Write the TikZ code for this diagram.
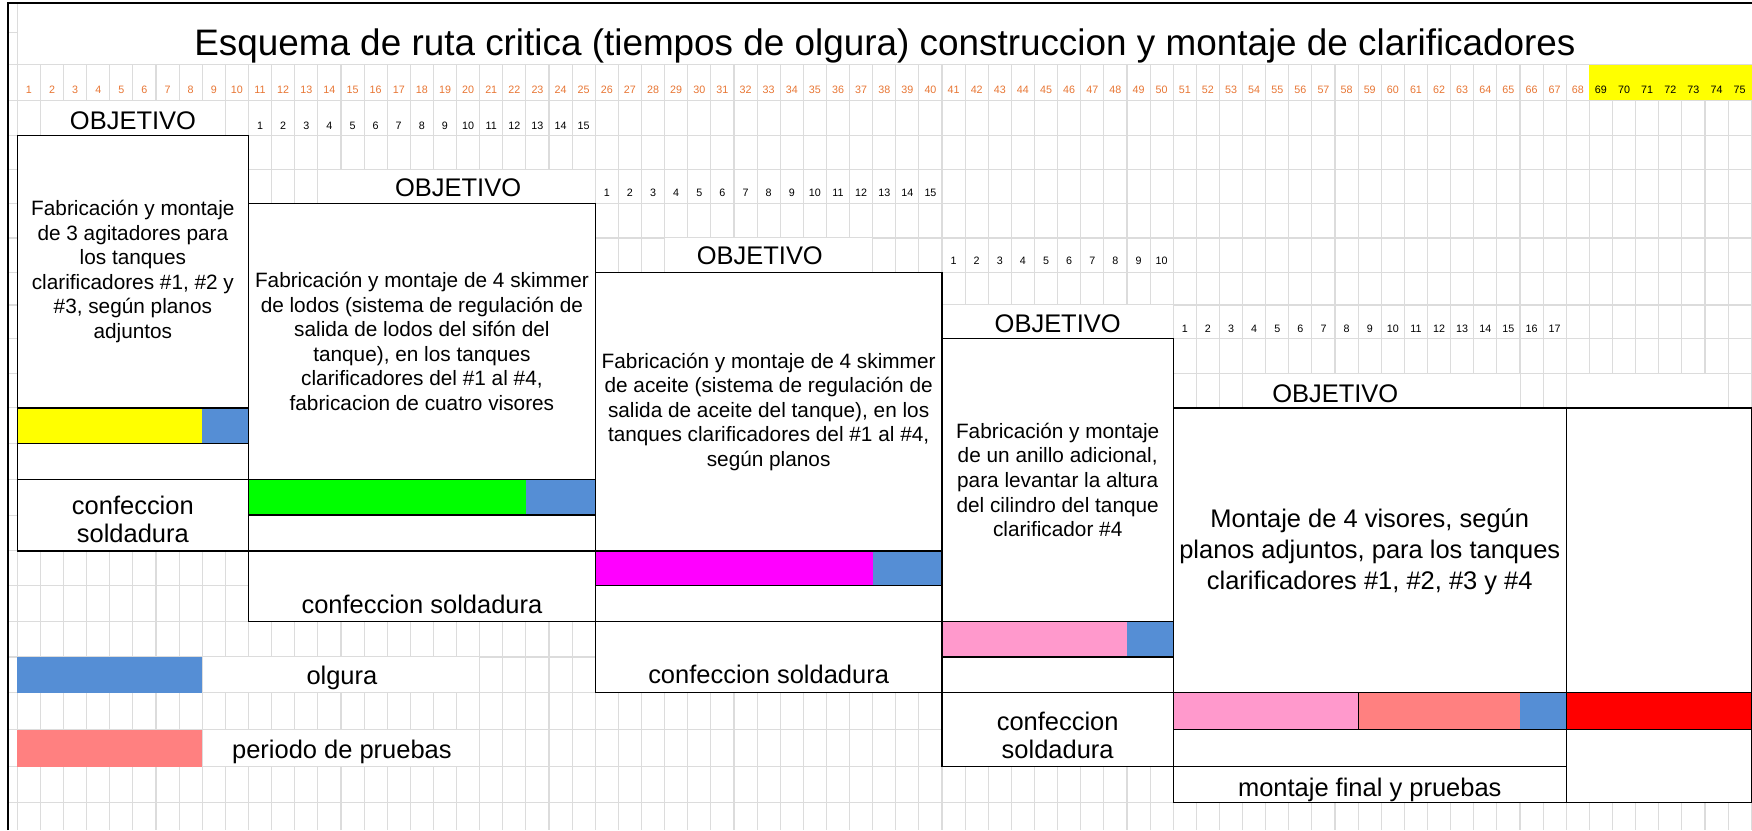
\documentclass[tikz,border=0pt]{standalone}
\usepackage{fontspec}
\setmainfont{Liberation Sans}
\usetikzlibrary{positioning}
\definecolor{gridgray}{RGB}{220,220,220}
\definecolor{olgura}{RGB}{85,142,213}
\definecolor{daycolor}{RGB}{232,118,52}
\definecolor{rosa}{RGB}{255,153,204}
\definecolor{pruebas}{RGB}{255,128,128}
\definecolor{amarillo}{RGB}{255,255,0}
\definecolor{verde}{RGB}{0,255,0}
\definecolor{fucsia}{RGB}{255,0,255}
\definecolor{rojo}{RGB}{255,0,0}

\begin{document}
\begin{tikzpicture}
	[
		x = 0.5pt, y = -0.5pt,
		gridline/.style = {draw = gridgray, line width = 0.5pt},
		boxline/.style = {draw = black, line width = 0.6pt},
		headline/.style = {font = \fontsize{16.5}{20}\selectfont, anchor = base, inner sep = 0pt},
		daynum/.style = {font = \fontsize{4.8}{5}\selectfont, text = daycolor, anchor = base, inner sep = 0pt},
		subnum/.style = {font = \fontsize{4.8}{5}\selectfont, anchor = base, inner sep = 0pt},
		objlabel/.style = {font = \fontsize{11.4}{13}\selectfont, anchor = base, inner sep = 0pt},
		desc/.style = {font = \fontsize{9.3}{11}\selectfont, align = center, inner sep = 0pt},
		bigdesc/.style = {font = \fontsize{11.4}{13.75}\selectfont, align = center, inner sep = 0pt},
		conflabel/.style = {font = \fontsize{11.4}{12.5}\selectfont, align = center, inner sep = 0pt},
	]
	%
	\useasboundingbox [fill = white] (0,0) rectangle (1568,743);
	%
	% hoja de calculo
	\foreach \k in {0,...,75}
		\draw [gridline] ({15.5+20.69*\k},3) -- ({15.5+20.69*\k},743);
	\foreach \y in {29,58,90,121,152,182,213,244,273,303,334,365,397,429,461,493,524,556,588,620,653,686,718}
		\draw [gridline] (7,\y) -- (1568,\y);
	%
	% celdas combinadas
	\fill [white] (16,3.4) rectangle (1568,57.6);
	\fill [white] (36.6,90.4) rectangle (201.3,120.6);
	\fill [white] (284.8,152.4) rectangle (532.4,181.6);
	\fill [white] (595.2,213.4) rectangle (780.6,243.6);
	\fill [white] (843.5,273.4) rectangle (1049.6,302.6);
	\fill [white] (1112.5,334.4) rectangle (1360,364.6);
	\fill [white] (1402.1,334.4) rectangle (1546.2,364.6);
	\fill [white] (181.4,588.4) rectangle (428.9,619.6);
	\fill [white] (181.4,653.4) rectangle (428.9,685.6);
	\fill [amarillo] (1422.42,58.4) rectangle (1568,89.6);
	%
	\node (title) [headline] at (792,50) {Esquema de ruta critica (tiempos de olgura) construccion y montaje de clarificadores};
	\foreach \k in {1,...,68}
		\node (n\k) [daynum] at ({15.5+20.69*(\k-0.5)},84) {\k};
	\foreach \k in {69,...,75}
		\node (n\k) [daynum, text = black] at ({15.5+20.69*(\k-0.5)},84) {\k};
	%
	\foreach \k in {1,...,15}
		\node (pa\k) [subnum] at ({222.36+20.69*(\k-0.5)},116) {\k};
	\foreach \k in {1,...,15}
		\node (pb\k) [subnum] at ({532.75+20.69*(\k-0.5)},176) {\k};
	\foreach \k in {1,...,10}
		\node (pc\k) [subnum] at ({843.1+20.69*(\k-0.5)},237) {\k};
	\foreach \k in {1,...,17}
		\node (pd\k) [subnum] at ({1050+20.69*(\k-0.5)},298) {\k};
	%
	\node (obj1) [objlabel] at (119,116) {OBJETIVO};
	\node (obj2) [objlabel] at (410,176) {OBJETIVO};
	\node (obj3) [objlabel] at (680,237) {OBJETIVO};
	\node (obj4) [objlabel] at (946.6,298) {OBJETIVO};
	\node (obj5) [objlabel] at (1195,360) {OBJETIVO};
	%
	% objetivo 1
	\fill [white] (15.5,121) rectangle (222.36,493);
	\fill [amarillo] (15.5,365) rectangle (180.98,397);
	\fill [olgura] (180.98,365) rectangle (222.36,397);
	\draw [boxline] (15.5,121) rectangle (222.36,493);
	\draw [boxline] (15.5,365) -- (222.36,365) (15.5,397) -- (222.36,397) (15.5,429) -- (222.36,429);
	%
	% objetivo 2
	\fill [white] (222.36,182) rectangle (532.75,556);
	\fill [verde] (222.36,429) rectangle (470.64,461);
	\fill [olgura] (470.64,429) rectangle (532.75,461);
	\draw [boxline] (222.36,182) rectangle (532.75,556);
	\draw [boxline] (222.36,429) -- (532.75,429) (222.36,461) -- (532.75,461) (222.36,493) -- (532.75,493);
	%
	% objetivo 3
	\fill [white] (532.75,244) rectangle (843.1,620);
	\fill [fucsia] (532.75,493) rectangle (781.03,524);
	\fill [olgura] (781.03,493) rectangle (843.1,524);
	\draw [boxline] (532.75,244) rectangle (843.1,620);
	\draw [boxline] (532.75,493) -- (843.1,493) (532.75,524) -- (843.1,524) (532.75,556) -- (843.1,556);
	%
	% objetivo 4
	\fill [white] (843.1,303) rectangle (1050,686);
	\fill [rosa] (843.1,556) rectangle (1008.62,588);
	\fill [olgura] (1008.62,556) rectangle (1050,588);
	\draw [boxline] (843.1,303) rectangle (1050,686);
	\draw [boxline] (843.1,556) -- (1050,556) (843.1,588) -- (1050,588) (843.1,620) -- (1050,620);
	%
	% objetivo 5
	\fill [white] (1050,365) rectangle (1567.25,718);
	\fill [rosa] (1050,620) rectangle (1215.52,653);
	\fill [pruebas] (1215.52,620) rectangle (1360.35,653);
	\fill [olgura] (1360.35,620) rectangle (1401.73,653);
	\fill [rojo] (1401.73,620) rectangle (1567.25,653);
	\draw [boxline] (1050,365) rectangle (1401.73,718);
	\draw [boxline] (1401.73,365) rectangle (1567.25,718);
	\draw [boxline] (1050,620) -- (1567.25,620) (1050,653) -- (1567.25,653) (1050,686) -- (1401.73,686);
	\draw [boxline] (1215.52,620) -- (1215.52,653);
	%
	\node (txt1) [desc] at (118.9,243) {Fabricación y montaje\\de 3 agitadores para\\los tanques\\clarificadores \#1, \#2 y\\\#3, según planos\\adjuntos};
	\node (txt2) [desc] at (377.6,305.5) {Fabricación y montaje de 4 skimmer\\de lodos (sistema de regulación de\\salida de lodos del sifón del\\tanque), en los tanques\\clarificadores del \#1 al \#4,\\fabricacion de cuatro visores};
	\node (txt3) [desc] at (687.9,368.5) {Fabricación y montaje de 4 skimmer\\de aceite (sistema de regulación de\\salida de aceite del tanque), en los\\tanques clarificadores del \#1 al \#4,\\según planos};
	\node (txt4) [desc] at (946.6,429.5) {Fabricación y montaje\\de un anillo adicional,\\para levantar la altura\\del cilindro del tanque\\clarificador \#4};
	\node (txt5) [bigdesc] at (1225.9,494) {Montaje de 4 visores, según\\planos adjuntos, para los tanques\\clarificadores \#1, \#2, \#3 y \#4};
	%
	\node (conf1) [conflabel] at (118.9,465) {confeccion\\soldadura};
	\node (conf2) [objlabel] at (377.6,549) {confeccion soldadura};
	\node (conf3) [objlabel] at (687.9,612) {confeccion soldadura};
	\node (conf4) [conflabel] at (946.6,658) {confeccion\\soldadura};
	\node (final) [objlabel] at (1225.9,713) {montaje final y pruebas};
	%
	% leyenda
	\fill [olgura] (15.5,588) rectangle (180.98,620);
	\fill [pruebas] (15.5,653) rectangle (180.98,686);
	\node (leg1) [objlabel] at (306,613) {olgura};
	\node (leg2) [objlabel] at (306,679) {periodo de pruebas};
	%
	\draw [line width = 0.8pt] (7,743) -- (7,3) -- (1568,3);
	%
\end{tikzpicture}
\end{document}
